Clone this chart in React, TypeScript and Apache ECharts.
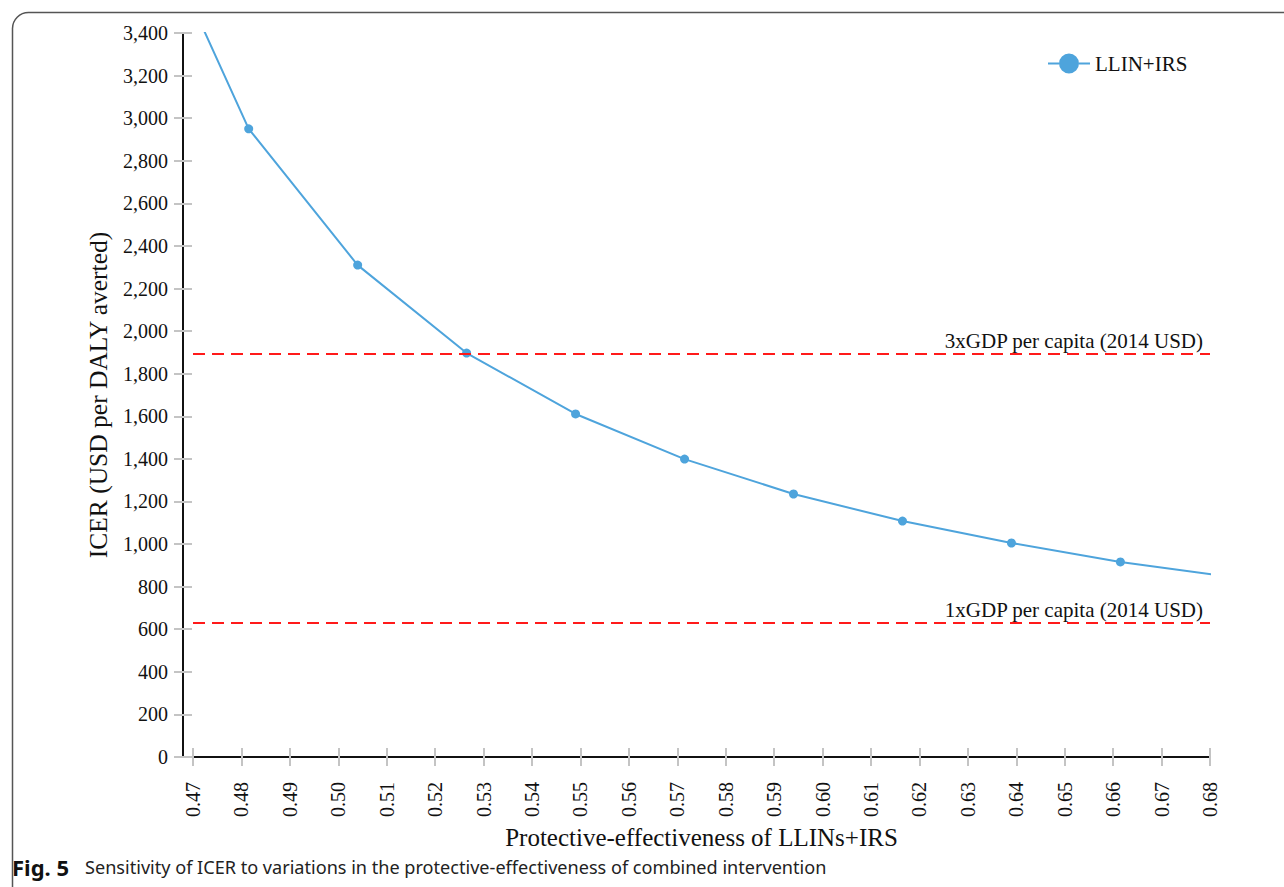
import React, { useEffect, useRef } from "react";
import * as echarts from "echarts";

// Protective-effectiveness of LLINs+IRS (x) and ICER in USD per DALY averted (y)
const effectiveness = [0.459, 0.4815, 0.504, 0.5265, 0.549, 0.5715, 0.594, 0.6165, 0.639, 0.6615, 0.684];
const icer = [4076, 2950, 2310, 1897, 1611, 1399, 1235, 1108, 1005, 916, 847];

// Willingness-to-pay thresholds
const gdpThresholds = [
  { label: "3xGDP per capita (2014 USD)", value: 1893 },
  { label: "1xGDP per capita (2014 USD)", value: 631 },
];

const seriesName = "LLIN+IRS";
const xTitle = "Protective-effectiveness of LLINs+IRS";
const yTitle = "ICER (USD per DALY averted)";
const captionBold = "Fig. 5";
const captionText = "Sensitivity of ICER to variations in the protective-effectiveness of combined intervention";

const SERIF = "'Liberation Serif', 'Times New Roman', serif";
const SANS = "'Noto Sans', 'Open Sans', sans-serif";
const BLUE = "#4ea4dc";
const TICK_GRAY = "#c4c4c4";

// Legend glyph: short line segments either side of a filled circle
const LEGEND_ICON = "path://M0,9H11V11H0Z M31,9H42V11H31Z M11,10A10,10 0 1,1 31,10A10,10 0 1,1 11,10Z";

export default function App() {
  const ref = useRef<HTMLDivElement>(null);

  useEffect(() => {
    document.body.style.margin = "0";
    if (!ref.current) return;
    const chart = echarts.init(ref.current, undefined, { renderer: "svg" });

    const xBase = {
      type: "value" as const,
      min: 0.47,
      max: 0.68,
      interval: 0.01,
      position: "bottom" as const,
      offset: 9,
      splitLine: { show: false },
    };
    const yBase = {
      type: "value" as const,
      min: 0,
      max: 3400,
      interval: 200,
      position: "left" as const,
      offset: 10,
      splitLine: { show: false },
    };

    chart.setOption({
      animation: false,
      backgroundColor: "#ffffff",
      grid: { left: 193, right: 74, top: 33, bottom: 130, containLabel: false },
      legend: {
        data: [{ name: seriesName, icon: LEGEND_ICON }],
        left: 1043,
        top: 48,
        itemWidth: 42,
        itemHeight: 20,
        itemGap: 5,
        textStyle: { fontFamily: SERIF, fontSize: 21, color: "#111" },
      },
      xAxis: [
        {
          ...xBase,
          name: xTitle,
          nameLocation: "middle",
          nameGap: 58,
          nameTextStyle: { fontFamily: SERIF, fontSize: 25, color: "#111" },
          axisLine: { show: true, lineStyle: { color: "#111", width: 2 } },
          axisTick: { show: true, length: 9, inside: false, lineStyle: { color: TICK_GRAY, width: 2 } },
          axisLabel: {
            rotate: 90,
            margin: 16,
            fontFamily: SERIF,
            fontSize: 20,
            color: "#111",
            formatter: (v: number) => v.toFixed(2),
          },
        },
        {
          ...xBase,
          axisLine: { show: false },
          axisTick: { show: true, length: 9, inside: true, lineStyle: { color: TICK_GRAY, width: 2 } },
          axisLabel: { show: false },
        },
      ],
      yAxis: [
        {
          ...yBase,
          name: yTitle,
          nameLocation: "middle",
          nameGap: 72,
          nameTextStyle: { fontFamily: SERIF, fontSize: 25.5, color: "#111" },
          axisLine: { show: true, lineStyle: { color: "#111", width: 2 } },
          axisTick: { show: true, length: 9, inside: false, lineStyle: { color: TICK_GRAY, width: 2 } },
          axisLabel: {
            margin: 15,
            fontFamily: SERIF,
            fontSize: 20,
            color: "#111",
            formatter: (v: number) => v.toLocaleString("en-US"),
          },
        },
        {
          ...yBase,
          axisLine: { show: false },
          axisTick: { show: true, length: 9, inside: true, lineStyle: { color: TICK_GRAY, width: 2 } },
          axisLabel: { show: false },
        },
      ],
      series: [
        {
          name: seriesName,
          type: "line",
          xAxisIndex: 0,
          yAxisIndex: 0,
          clip: true,
          data: effectiveness.map((x, i) => [x, icer[i]]),
          symbol: "circle",
          symbolSize: 9,
          showSymbol: true,
          lineStyle: { color: BLUE, width: 2 },
          itemStyle: { color: BLUE },
          markLine: {
            silent: true,
            symbol: ["none", "none"],
            lineStyle: { color: "#ff1a1a", type: [12, 7], width: 2 },
            label: {
              show: true,
              position: "insideEndTop",
              distance: [7, 2],
              fontFamily: SERIF,
              fontSize: 21,
              color: "#111",
              formatter: (p: any) => p.name,
            },
            data: gdpThresholds.map((t) => ({ name: t.label, yAxis: t.value })),
          },
        },
      ],
      graphic: [
        {
          type: "rect",
          left: 10,
          top: 10,
          shape: { width: 1300, height: 900, r: 16 },
          style: { fill: "none", stroke: "#555", lineWidth: 1.5 },
          silent: true,
          z: -1,
        },
        {
          type: "text",
          left: 12,
          top: 856,
          style: {
            text: `{b|${captionBold}}{n|${captionText}}`,
            rich: {
              b: { fontFamily: SANS, fontWeight: "bold", fontSize: 22, fill: "#111", padding: [0, 16, 0, 0] },
              n: { fontFamily: SANS, fontSize: 18.1, fill: "#222" },
            },
          },
        },
      ],
    });

    return () => chart.dispose();
  }, []);

  return <div ref={ref} style={{ width: 1284, height: 887 }} />;
}
